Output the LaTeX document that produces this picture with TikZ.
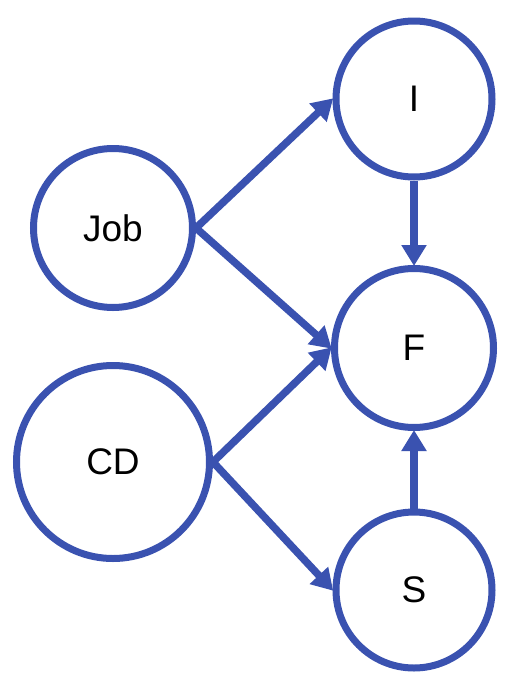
\documentclass[tikz,border=0pt]{standalone}
\usepackage{fontspec}
\setmainfont{Liberation Sans}
\usetikzlibrary{arrows.meta}
\definecolor{edgeblue}{RGB}{58,82,176}
\begin{document}
\begin{tikzpicture}[x=1pt,y=-1pt,
  var/.style={circle, draw=edgeblue, line width=7pt, fill=white, inner sep=0pt,
    font=\fontsize{37}{40}\selectfont},
  link/.style={draw=edgeblue, line width=7.5pt, -{Triangle[length=21pt,width=24pt]}, shorten >=-1pt}]
  \useasboundingbox (0,0) rectangle (530,683);
  \node[var, minimum size=156pt] (I)   at (414,99)  {I};
  \node[var, minimum size=159pt] (Job) at (113,228) {Job};
  \node[var, minimum size=159pt] (F)   at (414,348) {F};
  \node[var, minimum size=193pt] (CD)  at (113,462) {CD};
  \node[var, minimum size=156pt] (S)   at (414,590) {S};
  \draw[link] (Job.east) -- (I.west);
  \draw[link] (Job.east) -- (F.west);
  \draw[link] (CD.east) -- (F.west);
  \draw[link] (CD.east) -- (S.west);
  \draw[link] (I.south) -- (F.north);
  \draw[link] (S.north) -- (F.south);
\end{tikzpicture}
\end{document}
